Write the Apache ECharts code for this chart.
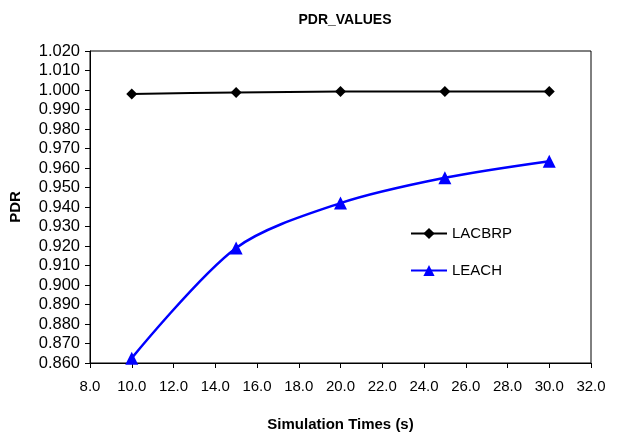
<!DOCTYPE html>
<html>
<head>
<meta charset="utf-8">
<script src="https://cdn.jsdelivr.net/npm/echarts@6/dist/echarts.min.js"></script>
<style>html,body{margin:0;padding:0;background:#fff}#c{width:618px;height:437px}</style>
</head>
<body>
<div id="c"></div>
<script>
var times = [10, 15, 20, 25, 30];
var lacbrp = [0.998, 0.9987, 0.9992, 0.9992, 0.9992];
var leach = [0.8625, 0.919, 0.942, 0.955, 0.9635];
var seriesNames = ['LACBRP', 'LEACH'];
var titleText = 'PDR_VALUES';
var xName = 'Simulation Times (s)';
var yName = 'PDR';

function pairs(xs, ys) { return xs.map(function (x, i) { return [x, ys[i]]; }); }

var font = 'Liberation Sans, Arial, sans-serif';
var chart = echarts.init(document.getElementById('c'), null, {renderer: 'canvas'});
chart.setOption({
  animation: false,
  backgroundColor: '#fff',
  title: {
    text: titleText, left: 340, top: 8, textAlign: 'center',
    textStyle: {fontFamily: font, fontSize: 14, fontWeight: 'bold', color: '#000'}
  },
  grid: {left: 90, right: 27, top: 51, bottom: 63, show: true, borderColor: '#000', borderWidth: 1, backgroundColor: 'transparent'},
  legend: {
    orient: 'vertical', left: 405, top: 221, itemWidth: 36, itemHeight: 14, itemGap: 22,
    textStyle: {fontFamily: font, fontSize: 15, color: '#000'},
    data: seriesNames
  },
  xAxis: {
    type: 'value', min: 8, max: 32, interval: 2,
    name: xName, nameLocation: 'middle', nameGap: 54,
    nameTextStyle: {fontFamily: font, fontSize: 15, fontWeight: 'bold', color: '#000'},
    axisLine: {lineStyle: {color: '#000', width: 1}},
    axisTick: {show: true, length: 5, inside: false, lineStyle: {color: '#000'}},
    axisLabel: {fontFamily: font, fontSize: 15, color: '#000', margin: 16, formatter: function (v) { return v.toFixed(1); }},
    splitLine: {show: false}
  },
  yAxis: {
    type: 'value', min: 0.86, max: 1.02, interval: 0.01,
    name: yName, nameLocation: 'middle', nameGap: 67, nameRotate: 90,
    nameTextStyle: {fontFamily: font, fontSize: 15, fontWeight: 'bold', color: '#000'},
    axisLine: {show: true, lineStyle: {color: '#000', width: 1}},
    axisTick: {show: true, length: 5, lineStyle: {color: '#000'}},
    axisLabel: {fontFamily: font, fontSize: 16.5, color: '#000', margin: 10, formatter: function (v) { return v.toFixed(3); }},
    splitLine: {show: false}
  },
  series: [
    {
      name: seriesNames[0], type: 'line', data: pairs(times, lacbrp),
      symbol: 'diamond', symbolSize: 11, smooth: 0.3,
      lineStyle: {color: '#000', width: 2}, itemStyle: {color: '#000'}
    },
    {
      name: seriesNames[1], type: 'line', data: pairs(times, leach),
      symbol: 'triangle', symbolSize: 13, smooth: 0.3,
      lineStyle: {color: '#0000ff', width: 2.5}, itemStyle: {color: '#0000ff'}
    }
  ]
});
</script>
</body>
</html>
